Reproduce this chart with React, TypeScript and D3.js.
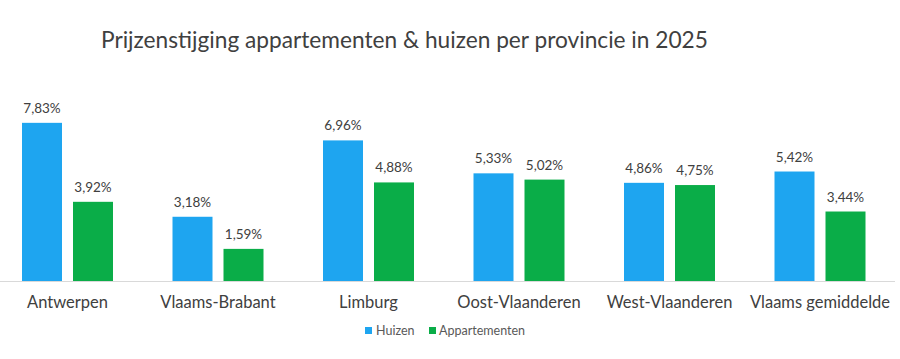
import React from "react";
import * as d3 from "d3";

const categories = ["Antwerpen", "Vlaams-Brabant", "Limburg", "Oost-Vlaanderen", "West-Vlaanderen", "Vlaams gemiddelde"];
const huizen = [7.83, 3.18, 6.96, 5.33, 4.86, 5.42];
const appartementen = [3.92, 1.59, 4.88, 5.02, 4.75, 3.44];
const seriesNames = ["Huizen", "Appartementen"];
const colors = ["#1EA5F0", "#0AAD48"];

const W = 900, H = 359;
const FONT = "Lato, 'Open Sans', sans-serif";

export default function App() {
  const x = d3.scaleBand<string>().domain(categories).range([-7.75, 895.25]).paddingInner(0).paddingOuter(0);
  const inner = d3.scaleBand<string>().domain(seriesNames).range([x.bandwidth() / 2 - 45.5, x.bandwidth() / 2 + 45.5]).paddingInner(11 / 51).paddingOuter(0);
  const y = d3.scaleLinear().domain([0, 8]).range([281, 281 - 8 * 20.2]);
  const fmt = (v: number) => v.toFixed(2).replace(".", ",") + "%";
  const series = [huizen, appartementen];
  return (
    <svg width={W} height={H} style={{ display: "block", position: "absolute", left: 0, top: 0 }}>
      <rect width={W} height={H} fill="#fff" />
      <text x={101} y={48} fontFamily={FONT} fontSize={22.7} fill="#404040">Prijzenstijging appartementen &amp; huizen per provincie in 2025</text>
      <line x1={0} x2={895} y1={y(0) + 0.5} y2={y(0) + 0.5} stroke="#D9D9D9" strokeWidth={1} />
      {categories.map((c, i) => (
        <g key={c} transform={`translate(${x(c)},0)`}>
          {series.map((s, j) => {
            const bx = inner(seriesNames[j])!;
            return (
              <g key={j}>
                <rect x={bx} y={y(s[i])} width={inner.bandwidth()} height={y(0) - y(s[i])} fill={colors[j]} />
                <text x={bx + inner.bandwidth() / 2} y={y(s[i]) - 10} textAnchor="middle" fontFamily={FONT} fontSize={13.5} fill="#404040">{fmt(s[i])}</text>
              </g>
            );
          })}
          <text x={x.bandwidth() / 2} y={308} textAnchor="middle" fontFamily={FONT} fontSize={16.5} fill="#404040">{c}</text>
        </g>
      ))}
      <g fontFamily={FONT} fontSize={12.5} fill="#595959">
        <rect x={365} y={327} width={7} height={7} fill={colors[0]} />
        <text x={376} y={335}>{seriesNames[0]}</text>
        <rect x={429} y={327} width={7} height={7} fill={colors[1]} />
        <text x={439} y={335}>{seriesNames[1]}</text>
      </g>
    </svg>
  );
}
